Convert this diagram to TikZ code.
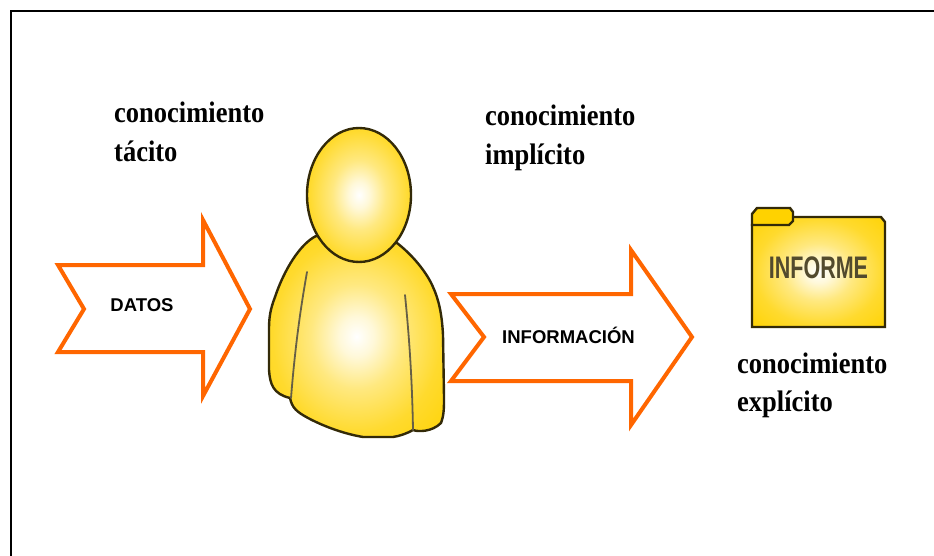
\documentclass[tikz,border=0pt]{standalone}
\usepackage{fontspec}
\setmainfont{Liberation Serif}
\setsansfont{Liberation Sans}
\definecolor{gold}{HTML}{FFD200}
\definecolor{arroworange}{HTML}{FF6600}
\definecolor{outlinebrown}{HTML}{332A08}
\pgfdeclareradialshading{goldglow}{\pgfpointorigin}{%
  color(0bp)=(white);
  color(5bp)=(white!85!gold);
  color(13bp)=(white!50!gold);
  color(24bp)=(white!18!gold);
  color(34bp)=(white!4!gold);
  color(42bp)=(gold);
  color(100bp)=(gold)}
\tikzset{
  x=1pt,y=-1pt,
  frameline/.style={draw=black,line width=2pt},
  bigarrow/.style={draw=arroworange,line width=4pt,fill=white,miter limit=10},
  figure/.style={draw=outlinebrown,line width=2.4pt,shading=goldglow},
  crease/.style={draw=outlinebrown!75,line width=1.8pt,line cap=round},
  knowledge/.style={anchor=base west,inner sep=0pt,yscale=1.12,font=\fontsize{26.5}{30}\selectfont\bfseries},
  arrowlabel/.style={inner sep=0pt,font=\fontsize{18.5}{21}\selectfont\sffamily\bfseries},
  foldertext/.style={inner sep=0pt,text=outlinebrown!85,yscale=1.45,font=\fontsize{21.5}{24}\selectfont\sffamily\bfseries}
}
\begin{document}
\begin{tikzpicture}
\useasboundingbox (0,0) rectangle (934,556);
\fill[white] (0,0) rectangle (934,556);
\draw[frameline] (11,556) -- (11,11) -- (934,11);
% arrows
\draw[bigarrow] (58,265) -- (84,309) -- (58,352) -- (203,352) -- (203,396) -- (250,309) -- (203,220) -- (203,265) -- cycle;
\draw[bigarrow] (451,294) -- (484,337) -- (451,381) -- (631,381) -- (631,425) -- (692,337) -- (631,250) -- (631,294) -- cycle;
\node[arrowlabel] (datos) at (142,305) {DATOS};
\node[arrowlabel] (info) at (568.5,335) {INFORMACIÓN};
% person
\path[figure] (316,236) .. controls (300,244) and (284,270) .. (275,297)
  .. controls (270,310) and (269,318) .. (269,330)
  -- (269,370) .. controls (270,384) and (273,394) .. (290,398)
  .. controls (292,408) and (297,412) .. (308,418)
  .. controls (325,427) and (345,434) .. (363,437)
  -- (393,437) .. controls (400,436) and (408,433) .. (413,430)
  .. controls (418,432) and (432,432) .. (441,423)
  .. controls (444,415) and (444,408) .. (444,397)
  -- (443,335) .. controls (442,315) and (439,300) .. (433,287)
  .. controls (428,275) and (415,257) .. (397,243) -- cycle;
\draw[crease] (307,272) .. controls (303,295) and (296,335) .. (291,398);
\draw[crease] (405,295) .. controls (408,325) and (412,370) .. (413,430);
\path[figure] (359,195) ellipse [x radius=52,y radius=67];
% folder
\path[figure] (752,225) -- (752,327) -- (885,327) -- (885,222) -- (881,217) -- (793,217) -- cycle;
\path[draw=outlinebrown,line width=2.4pt,fill=gold] (752,225) -- (752,214) -- (757,208) -- (790,208) -- (793,212) -- (793,221) -- (789,225) -- cycle;
\node[foldertext] (informe) at (818.5,267.5) {INFORME};
% texts
\node[knowledge] (tacitoa) at (114,123) {conocimiento};
\node[knowledge] (tacitob) at (114,162) {tácito};
\node[knowledge] (implicitoa) at (485,126) {conocimiento};
\node[knowledge] (implicitob) at (485,165) {implícito};
\node[knowledge] (explicitoa) at (737,373) {conocimiento};
\node[knowledge] (explicitob) at (737,411) {explícito};
\end{tikzpicture}
\end{document}
